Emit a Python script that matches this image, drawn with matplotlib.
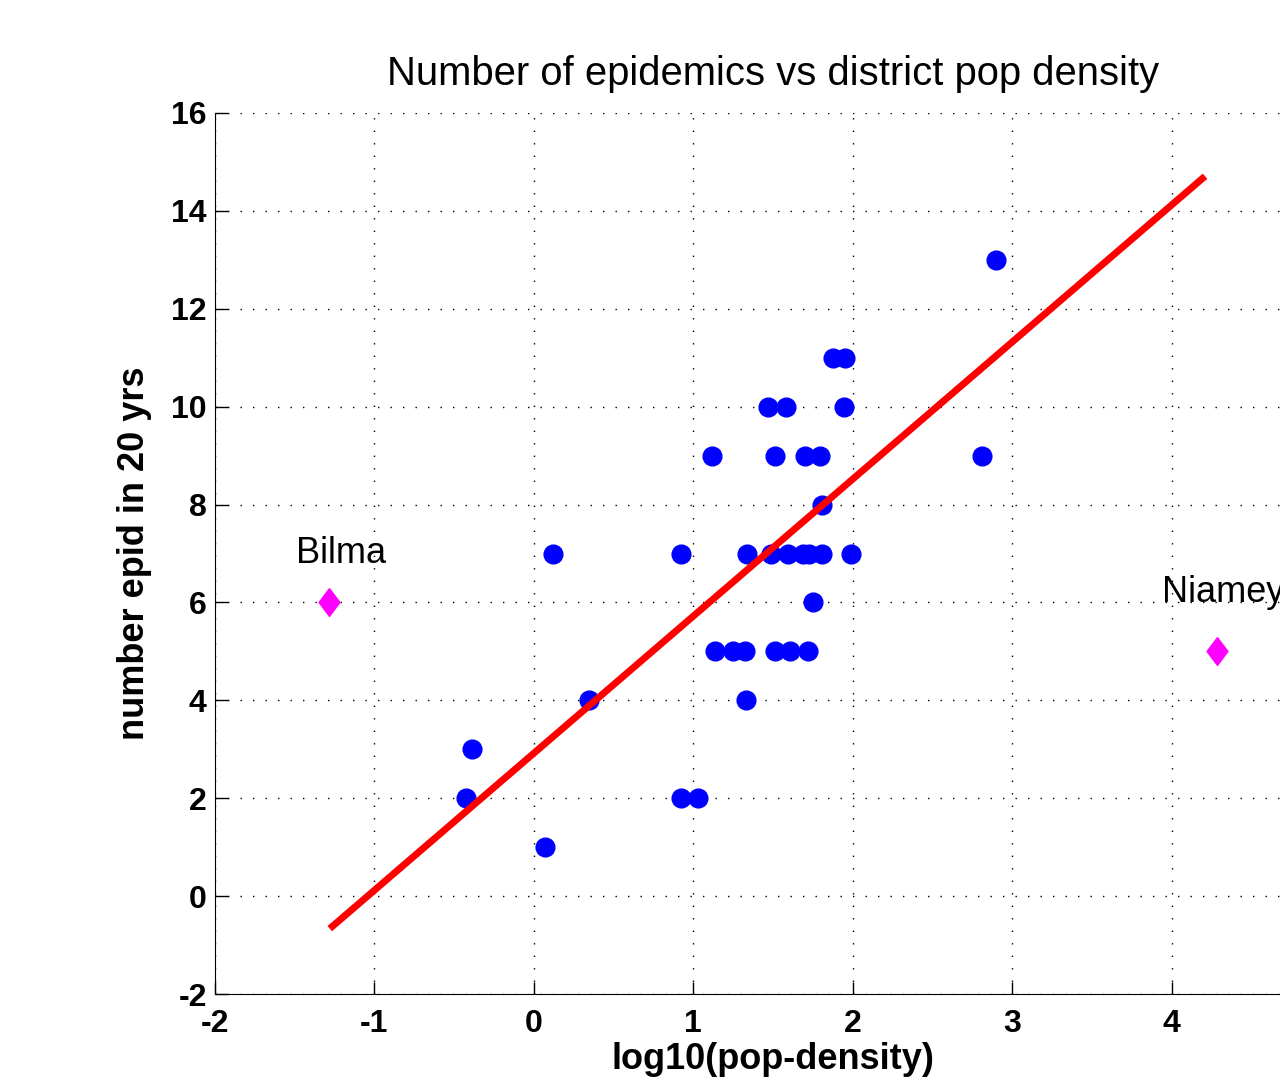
import matplotlib as mpl
mpl.use("Agg")
import matplotlib.pyplot as plt
import numpy as np

plt.rcParams.update({"font.family": ["Liberation Sans", "DejaVu Sans"],
                     "axes.unicode_minus": False})

# district points: log10(pop density) vs number of epidemics in 20 yrs
log_density = [2.90,
               1.875, 1.950,
               1.469, 1.584, 1.945,
               1.118, 1.511, 1.699, 1.793, 2.813,
               1.810,
               0.121, 0.922, 1.340, 1.490, 1.594, 1.688, 1.726, 1.810, 1.987,
               1.751,
               1.135, 1.250, 1.327, 1.511, 1.609, 1.720,
               0.347, 1.329,
               -0.391,
               -0.426, 0.922, 1.030,
               0.069]
n_epid = [13,
          11, 11,
          10, 10, 10,
          9, 9, 9, 9, 9,
          8,
          7, 7, 7, 7, 7, 7, 7, 7, 7,
          6,
          5, 5, 5, 5, 5, 5,
          4, 4,
          3,
          2, 2, 2,
          1]

# outliers
outlier_names = ["Bilma", "Niamey"]
outlier_x = [-1.285, 4.288]
outlier_y = [6, 5]
label_x = [-1.49, 3.94]
label_y = [7.0, 6.2]

# fitted line
fit_x = [-1.28, 4.21]
fit_slope, fit_icept = 2.80, 2.92

fig = plt.figure(figsize=(12.8, 10.9), dpi=100)
ax = fig.add_axes([215 / 1280, 96 / 1090, 1116 / 1280, 881 / 1090])

ax.grid(True, color="black", lw=1.0, ls=(0, (1, 8)))
ax.set_axisbelow(True)

ax.plot(log_density, n_epid, "o", color="#0000FF", ms=13.5, mec="#0000FF", zorder=3)
fx = np.array(fit_x)
ax.plot(fx, fit_icept + fit_slope * fx, color="#FF0000", lw=5, solid_capstyle="butt", zorder=4)

diamond = [(0, 1), (0.75, 0), (0, -1), (-0.75, 0), (0, 1)]
ax.plot(outlier_x, outlier_y, ls="none", marker=diamond, ms=20, color="#FF00FF", zorder=5)
for name, tx, ty in zip(outlier_names, label_x, label_y):
    ax.text(tx, ty, name, fontsize=26, va="center", ha="left", clip_on=False)

ax.set_xlim(-2, 5)
ax.set_ylim(-2, 16)
ax.set_xticks(range(-2, 5))
ax.set_yticks(range(-2, 17, 2))
ax.spines["top"].set_visible(False)
ax.spines["right"].set_visible(False)
ax.tick_params(direction="in", length=9, width=1, labelsize=23)
ax.tick_params(axis="x", pad=11)
ax.tick_params(axis="y", pad=6)
for lab in ax.get_xticklabels() + ax.get_yticklabels():
    lab.set_fontweight("bold")

ax.set_title("Number of epidemics vs district pop density", fontsize=28.8, pad=20)
ax.set_xlabel("log10(pop-density)", fontsize=26, fontweight="bold", labelpad=2)
ax.set_ylabel("number epid in 20 yrs", fontsize=26, fontweight="bold", labelpad=14)

fig.savefig("out.png", dpi=100, facecolor="white")
